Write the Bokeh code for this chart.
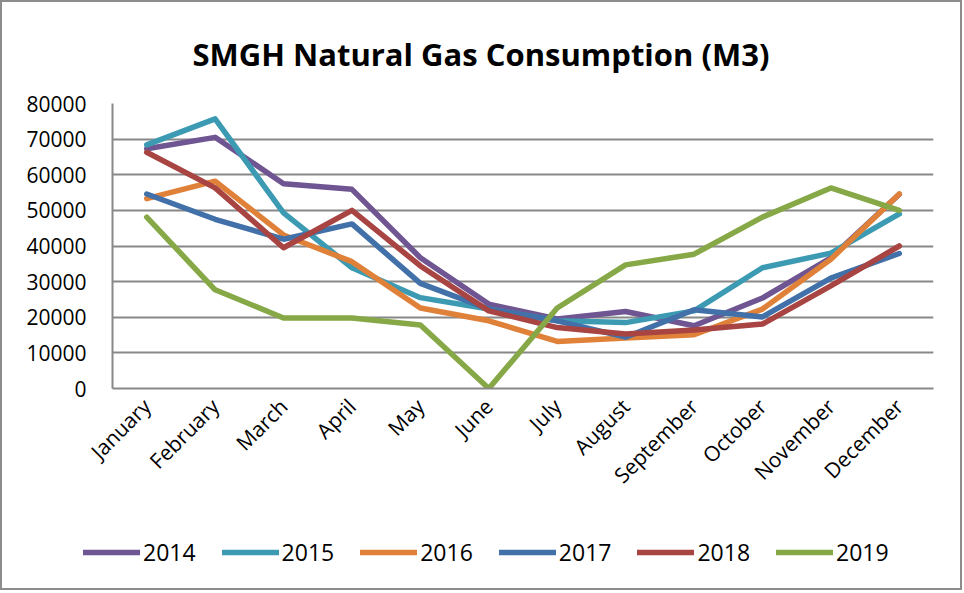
import math
from bokeh.plotting import figure
from bokeh.layouts import column, row
from bokeh.models import Legend, LegendItem, FixedTicker, Range1d
from bokeh.embed import file_html
from bokeh.resources import INLINE

months = ["January", "February", "March", "April", "May", "June", "July",
          "August", "September", "October", "November", "December"]

y2014 = [67300, 70500, 57500, 55900, 36700, 23700, 19500, 21600, 17600, 25400, 36700, 54500]
y2015 = [68400, 75700, 49300, 33900, 25500, 22300, 19000, 18500, 21800, 33900, 38000, 49000]
y2016 = [53300, 58200, 43100, 35600, 22600, 19000, 13200, 14200, 15100, 22300, 36300, 54600]
y2017 = [54600, 47500, 41900, 46200, 29500, 22300, 19000, 14400, 22100, 20100, 31000, 37900]
y2018 = [66300, 56300, 39500, 50000, 34400, 21800, 17100, 15300, 16400, 18100, 28800, 40000]
y2019 = [48100, 27700, 19800, 19800, 17800, 0, 22600, 34700, 37700, 48100, 56300, 50000]

series = [
    ("2014", y2014, "#6F5592"),
    ("2015", y2015, "#3C9BB3"),
    ("2016", y2016, "#E0813A"),
    ("2017", y2017, "#4271A9"),
    ("2018", y2018, "#A84442"),
    ("2019", y2019, "#86A846"),
]

y_ticks = [0, 10000, 20000, 30000, 40000, 50000, 60000, 70000, 80000]

FONT = "Open Sans"

p = figure(width=958, height=506, x_range=months, y_range=Range1d(0, 80000),
           output_backend="svg", toolbar_location=None,
           min_border_left=110, min_border_right=27, min_border_top=100,
           min_border_bottom=120)
p.background_fill_color = "white"
p.border_fill_color = "white"
p.outline_line_color = None

p.title.text = "SMGH Natural Gas Consumption (M3)"
p.title.align = "left"
p.title.offset = 80
p.title.standoff = 57
p.title.text_font = FONT
p.title.text_font_style = "bold"
p.title.text_font_size = "31px"
p.title.text_color = "black"

p.xgrid.grid_line_color = None
p.ygrid.grid_line_color = "#888888"
p.ygrid.grid_line_width = 2
p.yaxis.ticker = FixedTicker(ticks=y_ticks)

for ax in (p.xaxis, p.yaxis):
    ax.axis_line_color = "#888888"
    ax.axis_line_width = 2
    ax.major_tick_line_color = None
    ax.minor_tick_line_color = None
    ax.major_label_text_font = FONT
    ax.major_label_text_color = "black"
p.yaxis.major_label_text_font_size = "21px"
p.xaxis.major_label_text_font_size = "21px"
p.yaxis.major_label_standoff = 20
p.xaxis.major_label_standoff = 8
p.xaxis.major_label_orientation = math.pi / 4

# legend strip below the chart (its swatch lines lie outside its visible range)
q = figure(width=958, height=80, x_range=Range1d(0, 958), y_range=Range1d(-100, -20),
           output_backend="svg", toolbar_location=None,
           x_axis_type=None, y_axis_type=None,
           min_border_left=0, min_border_right=0, min_border_top=0, min_border_bottom=0)
q.outline_line_color = None
q.xgrid.grid_line_color = None
q.ygrid.grid_line_color = None
q.background_fill_color = "white"
q.border_fill_color = "white"

items = []
for name, vals, col in series:
    p.line(months, vals, line_color=col, line_width=5.5,
           line_join="round", line_cap="round")
    sw = q.line(list(range(len(vals))), vals, line_color=col, line_width=5.5,
                line_cap="round")
    items.append(LegendItem(label=name, renderers=[sw]))

legend = Legend(items=items, orientation="horizontal", location=(81, 20),
                padding=0, margin=0, spacing=26, glyph_width=57, glyph_height=24,
                label_standoff=3, label_text_font=FONT, label_text_font_size="23px",
                label_text_color="black", background_fill_alpha=0,
                border_line_color=None)
q.add_layout(legend, "center")

layout = column(p, row(q), spacing=0, styles={"border": "2px solid #8c8c8c"})

open("out.html", "w").write(file_html(layout, INLINE))
